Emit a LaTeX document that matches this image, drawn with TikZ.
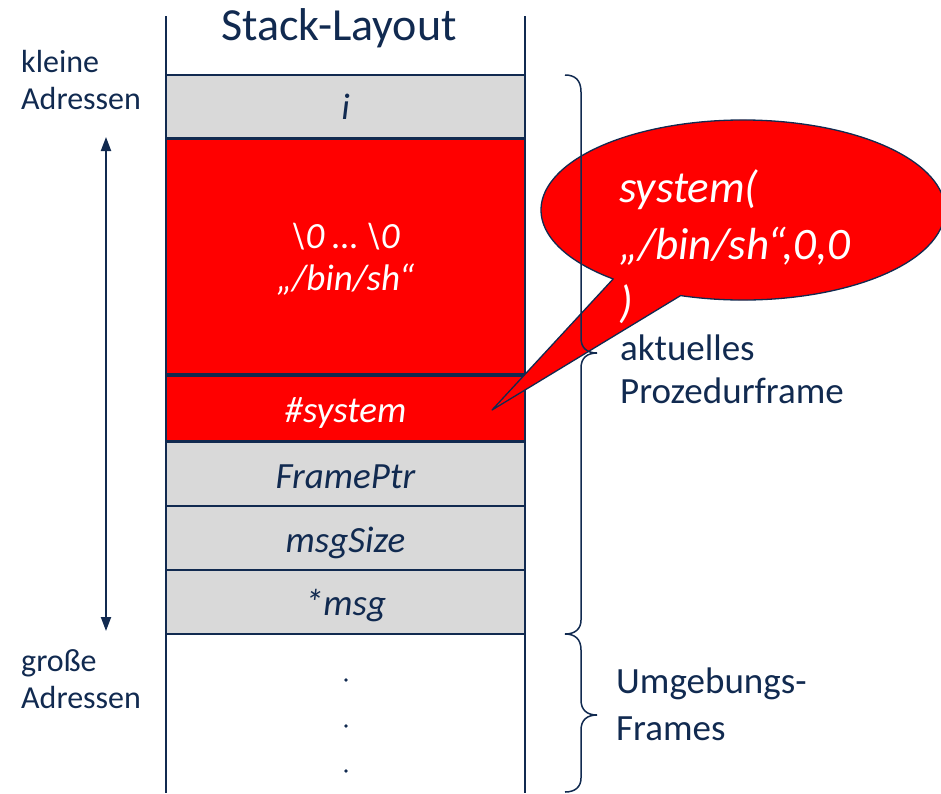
\documentclass[tikz,border=0pt]{standalone}
\usepackage{fontspec}
\setmainfont{Carlito}
\usetikzlibrary{arrows.meta}
\definecolor{navy}{HTML}{112A50}
\definecolor{cellgray}{HTML}{D9D9D9}
\definecolor{hotred}{HTML}{FF0000}
\begin{document}
\begin{tikzpicture}[x=1pt,y=1pt,
  cellline/.style={draw=navy,line width=1.8pt},
  graycell/.style={cellline,fill=cellgray},
  redcell/.style={cellline,fill=hotred},
  celltext/.style={font=\fontsize{37}{42}\selectfont\itshape,text=navy,inner sep=0pt,anchor=base},
  redtext/.style={celltext,text=white},
  lefttext/.style={font=\fontsize{32}{38}\selectfont,text=navy,inner sep=0pt,anchor=base west},
  righttext/.style={font=\fontsize{37}{43}\selectfont,text=navy,inner sep=0pt,anchor=base west},
  callouttext/.style={font=\fontsize{45}{57}\selectfont\itshape,text=white,inner sep=0pt,anchor=base west},
  bracket/.style={draw=navy,line width=1.5pt},
  addrarrow/.style={draw=navy,line width=2pt,{Triangle[length=14pt,width=10pt]}-{Triangle[length=14pt,width=10pt]}},
  callout/.style={fill=hotred,draw=navy,line width=1.3pt,line join=round}]

\useasboundingbox (0,0) rectangle (941,-793);

% stack cells
\path[graycell] (166,-75)  rectangle (525,-138);
\path[redcell]  (166,-139) rectangle (525,-374);
\path[redcell]  (166,-376) rectangle (525,-441);
\path[graycell] (166,-442) rectangle (525,-506);
\path[graycell] (166,-506) rectangle (525,-570);
\path[graycell] (166,-570) rectangle (525,-634);

% side walls of the stack
\draw[cellline] (166,-16) -- (166,-793);
\draw[cellline] (525,-16) -- (525,-793);

% title
\node[font=\fontsize{46}{50}\selectfont,text=navy,inner sep=0pt,anchor=base] (title) at (339,-40) {Stack-Layout};

% cell contents
\node[celltext] (ti) at (345.5,-119) {i};
\node[redtext] (tzero) at (345.5,-248) {\textbackslash 0 … \textbackslash 0};
\node[redtext] (tbin) at (345.5,-290) {„/bin/sh“};
\node[redtext] (tsys) at (345.5,-422) {\#system};
\node[celltext] (tfp) at (345.5,-488) {FramePtr};
\node[celltext] (tms) at (345.5,-552) {msgSize};
\node[celltext] (tmsg) at (345.5,-615) {*msg};

% continuation dots
\foreach \yy in {680,726,771}
  \fill[navy] (346,-\yy) circle (1.8);

% address labels and arrow
\node[lefttext] (kl1) at (21,-72) {kleine};
\node[lefttext] (kl2) at (21,-109) {Adressen};
\node[lefttext] (gr1) at (21,-671) {große};
\node[lefttext] (gr2) at (21,-708) {Adressen};
\coordinate (arrtop) at (106,-137);
\coordinate (arrbot) at (106,-631);
\draw[addrarrow] (arrtop) -- (arrbot);

% speech bubble
\coordinate (bubc) at (743,-210);
\coordinate (tip) at (492,-410);
\draw[callout] (bubc) ++(252:202 and 90)
  arc[start angle=252,end angle=590,x radius=202,y radius=90] -- (tip) -- cycle;
\node[callouttext] (cb1) at (619,-202) {system(};
\node[callouttext] (cb2) at (619,-259) {„/bin/sh“,0,0};
\node[callouttext] (cb3) at (619,-317) {)};

% braces
\draw[bracket] (565,-75) .. controls (575,-75) and (581,-80) .. (581,-92)
  -- (581,-338) .. controls (581,-348) and (587,-353) .. (597,-353)
  .. controls (587,-353) and (581,-358) .. (581,-368)
  -- (581,-620) .. controls (581,-629) and (575,-634) .. (565,-634);
\draw[bracket] (565,-634) .. controls (575,-634) and (581,-639) .. (581,-650)
  -- (581,-700) .. controls (581,-710) and (587,-715) .. (597,-715)
  .. controls (587,-715) and (581,-720) .. (581,-730)
  -- (581,-778) .. controls (581,-787) and (575,-792) .. (565,-792);

% brace labels
\node[righttext] (ak1) at (620,-360) {aktuelles};
\node[righttext] (ak2) at (620,-403) {Prozedurframe};
\node[righttext] (um1) at (616,-693) {Umgebungs-};
\node[righttext] (um2) at (616,-740) {Frames};

\end{tikzpicture}
\end{document}
